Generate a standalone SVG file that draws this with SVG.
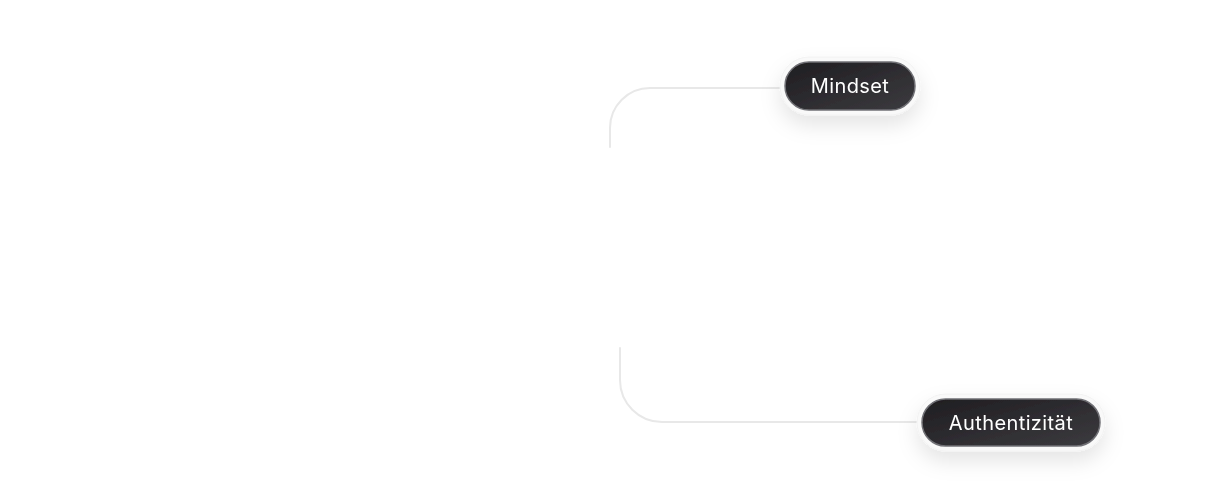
<svg xmlns="http://www.w3.org/2000/svg" width="1220" height="500" viewBox="0 0 1220 500">
<style>
.conn{fill:none;stroke:#e8e8e8;stroke-width:2;stroke-linecap:round}
.pill{fill:url(#g);stroke:#707075;stroke-width:1.5}
.halo{fill:#f9f9f9;stroke:#f2f2f2;stroke-width:1}
.lbl{font-family:Inter,"Noto Sans",sans-serif;font-size:20px;letter-spacing:0.4px;fill:#ffffff;text-anchor:middle;dominant-baseline:central}
</style>
<defs>
<linearGradient id="g" x1="0" y1="0" x2="1" y2="1">
<stop offset="0" stop-color="#1f1d21"/>
<stop offset="1" stop-color="#3c3b3f"/>
</linearGradient>
<filter id="sh" x="-30%" y="-60%" width="160%" height="260%">
<feDropShadow dx="0" dy="10" stdDeviation="10" flood-color="#000" flood-opacity="0.10"/>
</filter>
</defs>
<rect width="1220" height="500" fill="#ffffff"/>
<g id="connectors">
<path class="conn" d="M610 147 V128 A40 40 0 0 1 650 88 H786"/>
<path class="conn" d="M620 348 V380 A42 42 0 0 0 662 422 H923"/>
</g>
<g id="node-mindset" filter="url(#sh)">
<rect class="halo" x="780" y="57" width="140" height="58" rx="29"/>
<rect class="pill" x="785" y="62" width="130" height="48" rx="24"/>
<text class="lbl" x="850" y="86">Mindset</text>
</g>
<g id="node-authentizitaet" filter="url(#sh)">
<rect class="halo" x="917" y="394" width="188" height="57" rx="28.5"/>
<rect class="pill" x="922" y="399" width="178" height="47" rx="23.5"/>
<text class="lbl" x="1011" y="422.5">Authentizität</text>
</g>
</svg>
